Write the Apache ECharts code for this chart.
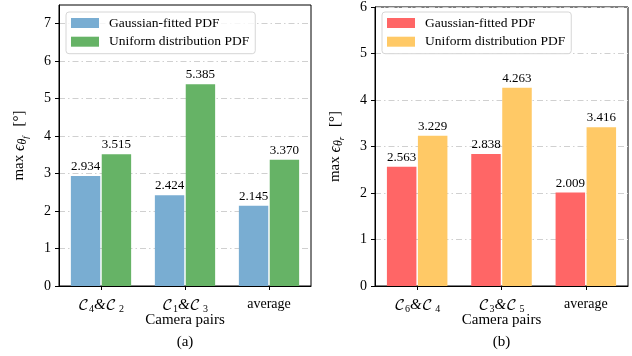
<!DOCTYPE html>
<html>
<head>
<meta charset="utf-8">
<script src="https://cdn.jsdelivr.net/npm/echarts@6/dist/echarts.min.js"></script>
<style>
html, body { margin: 0; padding: 0; background: #fff; }
#chart { width: 632px; height: 356px; }
</style>
</head>
<body>
<div id="chart"></div>
<script>
// values
var catsA = ['C4&C2', 'C1&C3', 'average'];
var catsB = ['C6&C4', 'C3&C5', 'average'];
var gaussA = [2.934, 2.424, 2.145];
var uniformA = [3.515, 5.385, 3.370];
var gaussB = [2.563, 2.838, 2.009];
var uniformB = [3.229, 4.263, 3.416];
var ticksA = [0, 1, 2, 3, 4, 5, 6, 7];
var ticksB = [0, 1, 2, 3, 4, 5, 6];
var seriesNames = ['Gaussian-fitted PDF', 'Uniform distribution PDF'];

var serif = '"Liberation Serif", "DejaVu Serif", serif';
var mathFont = '"DejaVu Math TeX Gyre", "DejaVu Serif", "Liberation Serif", serif';

var myChart = echarts.init(document.getElementById('chart'));

function catLabel(v) {
    var m = /^C(\d)&C(\d)$/.exec(v);
    if (!m) return '{t|' + v + '}';
    return '{c|\uD835\uDC9E}{s|' + m[1] + '}{a|&}{c|\uD835\uDC9E}{s| ' + m[2] + '}';
}

var catRich = {
    t: {fontFamily: serif, fontSize: 14, color: '#000'},
    c: {fontFamily: mathFont, fontSize: 15, color: '#000'},
    s: {fontFamily: serif, fontSize: 10, color: '#000', padding: [7, 0, 0, 0]},
    a: {fontFamily: serif, fontSize: 15, color: '#000', fontStyle: 'italic'}
};

var nameRich = {
    e: {fontFamily: serif, fontSize: 16, fontStyle: 'italic', color: '#000'},
    s: {fontFamily: serif, fontSize: 12, fontStyle: 'italic', color: '#000', padding: [6, 0, 0, 0]},
    ss: {fontFamily: serif, fontSize: 9, fontStyle: 'italic', color: '#000', padding: [12, 0, 0, 0]},
    b: {fontFamily: serif, fontSize: 15, color: '#000', padding: [0, 0, 0, 6]}
};

function xAxisFor(idx, cats) {
    return {
        gridIndex: idx,
        type: 'category',
        data: cats,
        axisLine: {show: true, lineStyle: {color: '#000', width: 1}},
        axisTick: {show: true, alignWithLabel: true, length: 4, lineStyle: {color: '#000'}},
        axisLabel: {interval: 0, hideOverlap: false, formatter: catLabel, rich: catRich, margin: 11, color: '#000', fontFamily: serif, fontSize: 14},
        name: 'Camera pairs',
        nameLocation: 'middle',
        nameGap: 27,
        nameMoveOverlap: false,
        nameTextStyle: {fontFamily: serif, fontSize: 15, color: '#000'}
    };
}

function yAxisFor(idx, max, ticks, sub) {
    return {
        gridIndex: idx,
        type: 'value',
        min: 0,
        max: max,
        interval: 1,
        axisLine: {show: true, lineStyle: {color: '#000', width: 1}},
        axisTick: {show: true, length: 4, customValues: ticks, lineStyle: {color: '#000'}},
        axisLabel: {customValues: ticks, margin: 8, color: '#000', fontFamily: serif, fontSize: 14},
        splitLine: {show: true, lineStyle: {color: '#d0d0d0', width: 1, type: [6, 3, 1.5, 3]}},
        name: 'max {e|\u03F5}{s|\u03B8}{ss|' + sub + '}{b| [\u00B0]}',
        nameLocation: 'middle',
        nameRotate: 90,
        nameGap: 29,
        nameMoveOverlap: false,
        nameTextStyle: {fontFamily: serif, fontSize: 15, color: '#000', rich: nameRich}
    };
}

function legendFor(left, colors) {
    return {
        left: left,
        top: 12,
        orient: 'vertical',
        icon: 'rect',
        itemWidth: 28,
        itemHeight: 10,
        itemGap: 4.7,
        padding: [4, 6, 5, 5],
        borderColor: '#d6d6d6',
        borderWidth: 1,
        borderRadius: 3,
        backgroundColor: 'rgba(255,255,255,0.8)',
        textStyle: {fontFamily: serif, fontSize: 13.5, color: '#000', lineHeight: 14, padding: [0, 0, 0, 5]},
        data: [
            {name: seriesNames[0], itemStyle: {color: colors[0]}},
            {name: seriesNames[1], itemStyle: {color: colors[1]}}
        ]
    };
}

function barSeries(name, data, axisIdx, color) {
    return {
        name: name,
        type: 'bar',
        xAxisIndex: axisIdx,
        yAxisIndex: axisIdx,
        data: data,
        barWidth: '35%',
        barGap: '5%',
        itemStyle: {color: color},
        label: {
            show: true,
            position: 'top',
            distance: 3,
            color: '#000',
            fontFamily: serif,
            fontSize: 13,
            formatter: function (p) { return p.value.toFixed(3); }
        }
    };
}

var option = {
    animation: false,
    backgroundColor: '#fff',
    grid: [
        {left: 59, right: 321, top: 5, bottom: 70, show: true, borderColor: '#000', borderWidth: 1},
        {left: 375, right: 4, top: 5, bottom: 70, show: true, borderColor: '#000', borderWidth: 1}
    ],
    legend: [
        legendFor(66, ['#79add2', '#66b366']),
        legendFor(382, ['#ff6666', '#ffc966'])
    ],
    xAxis: [xAxisFor(0, catsA), xAxisFor(1, catsB)],
    yAxis: [yAxisFor(0, 7.5, ticksA, 'f'), yAxisFor(1, 6, ticksB, 'r')],
    series: [
        barSeries(seriesNames[0], gaussA, 0, '#79add2'),
        barSeries(seriesNames[1], uniformA, 0, '#66b366'),
        barSeries(seriesNames[0], gaussB, 1, '#ff6666'),
        barSeries(seriesNames[1], uniformB, 1, '#ffc966')
    ],
    graphic: [
        {type: 'text', x: 185, y: 342, style: {text: '(a)', font: '15px ' + serif, fill: '#000', align: 'center', verticalAlign: 'middle'}},
        {type: 'text', x: 501.5, y: 342, style: {text: '(b)', font: '15px ' + serif, fill: '#000', align: 'center', verticalAlign: 'middle'}}
    ]
};

myChart.setOption(option);
</script>
</body>
</html>
